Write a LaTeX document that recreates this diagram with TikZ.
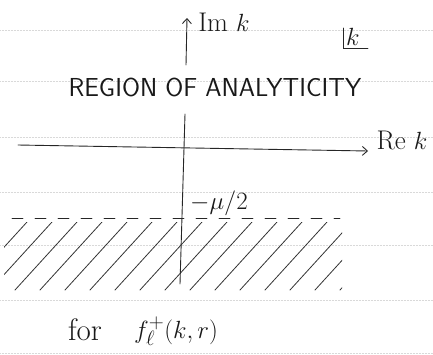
\documentclass[tikz,border=0pt]{standalone}
\usetikzlibrary{arrows.meta}
\begin{document}
\begin{tikzpicture}[x=1pt,y=-1pt,
  ink/.style={draw=black!85,line width=0.9pt,line cap=round},
  rule/.style={draw=black!15,line width=0.5pt,densely dotted},
  hatchline/.style={draw=black!80,line width=0.8pt,line cap=round},
  lbl/.style={inner sep=0pt,text=black!90}]
\useasboundingbox (0,0) rectangle (433,354);
% ruled notebook lines
\foreach \y in {30,81,137,192,245,300,353}
  \draw[rule] (0,\y) -- (433,\y);
% imaginary axis
\coordinate (imtop) at (187,18);
\coordinate (imgap1) at (186,65);
\coordinate (imgap2) at (185,114);
\coordinate (imbot) at (180,284);
\draw[ink,{Straight Barb[length=5pt,width=9pt]}-] (imtop) -- (imgap1);
\draw[ink] (imgap2) -- (imbot);
% real axis
\coordinate (releft) at (18,145);
\coordinate (reright) at (368,151);
\draw[ink,-{Straight Barb[length=5pt,width=9pt]}] (releft) -- (reright);
% labels
\node[lbl,font=\fontsize{27}{30}\selectfont] (imk) at (224,22) {Im $k$};
\node[lbl,font=\fontsize{27}{30}\selectfont] (rek) at (402,140) {Re $k$};
\node[lbl,font=\fontsize{26}{30}\selectfont\sffamily] (region) at (215,87) {REGION OF ANALYTICITY};
\node[lbl,font=\fontsize{26}{30}\selectfont] (mu) at (219,203) {$-\mu/2$};
\node[lbl,font=\fontsize{31}{34}\selectfont] (forw) at (85,330) {for};
\node[lbl,font=\fontsize{31}{34}\selectfont,anchor=west] (fl) at (134,331) {$f_\ell^{+}(k,r)$};
% k-plane marker
\node[lbl,font=\fontsize{25}{28}\selectfont,anchor=base west] (kk) at (346,45) {$k$};
\draw[ink] (343,28) -- (343,48) -- (368,48);
% dashed boundary
\coordinate (dashl) at (12,218);
\coordinate (dashr) at (340,218);
\draw[ink,dash pattern=on 11pt off 12pt] (dashl) -- (dashr);
% hatching
\begin{scope}
  \clip (4,222) rectangle (342,292);
  \foreach \x in {-60,-35,...,340}
    \draw[hatchline] (\x,290) -- (\x+62,222);
\end{scope}
\end{tikzpicture}
\end{document}
